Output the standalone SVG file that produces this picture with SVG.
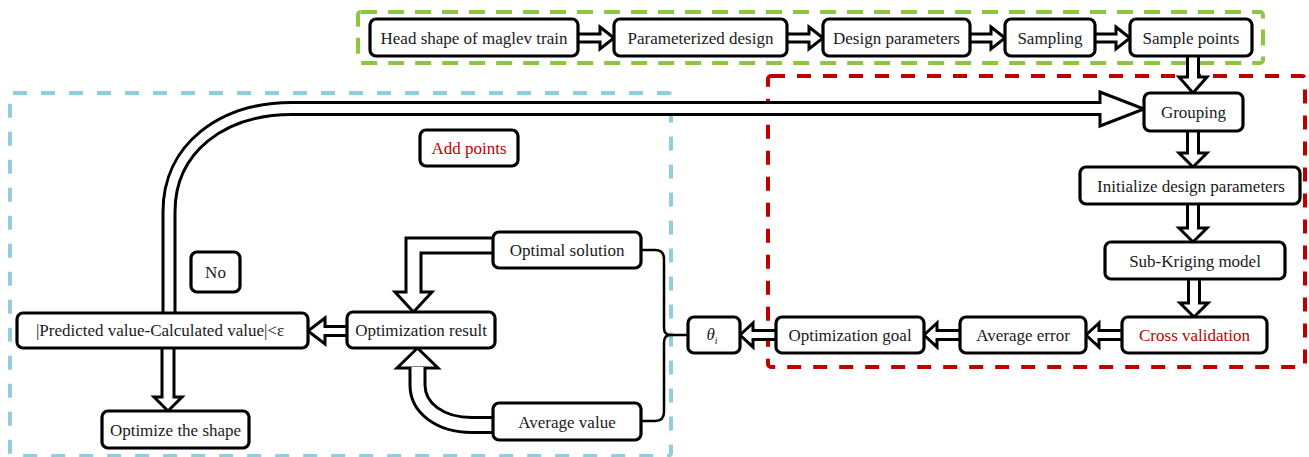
<svg xmlns="http://www.w3.org/2000/svg" width="1309" height="457" viewBox="0 0 1309 457">
<style>
.bg{fill:#fff}
.frame{fill:none;stroke-width:4}
.g{stroke:#8dc63f;stroke-dasharray:16 11}
.r{stroke:#c00000;stroke-dasharray:14 12}
.b{stroke:#92cddc;stroke-dasharray:14 14}
.box{fill:#fff;stroke:#000;stroke-width:3.2}
.t{font-family:"Liberation Serif","Times New Roman",serif;font-size:17px;fill:#1a1a1a;text-anchor:middle}
.red{fill:#c00000}
.k{fill:none;stroke:#000;stroke-linejoin:miter}
.w{fill:none;stroke:#fff;stroke-linejoin:miter}
.hd{fill:#fff;stroke:#000;stroke-width:3;stroke-linejoin:miter}
.thin{fill:none;stroke:#000;stroke-width:2.5}
</style>
<rect class="bg" x="0" y="0" width="1309" height="457"/>
<g id="frames">
<rect class="frame b" x="10" y="93" width="661" height="363" rx="3"/>
<rect class="frame r" x="768" y="76" width="537" height="291" rx="3"/>
<rect class="frame g" x="358" y="12" width="905" height="51" rx="3"/>
</g>
<g id="connectors">
<path class="k" stroke-width="11" d="M570,38 H601"/><polygon class="hd" points="600,27 614,38 600,49"/><path class="w" stroke-width="5" d="M570,38 H602"/>
<path class="k" stroke-width="11" d="M780,38 H810"/><polygon class="hd" points="809,27 823,38 809,49"/><path class="w" stroke-width="5" d="M780,38 H811"/>
<path class="k" stroke-width="11" d="M962,38 H992"/><polygon class="hd" points="991,27 1005,38 991,49"/><path class="w" stroke-width="5" d="M962,38 H993"/>
<path class="k" stroke-width="11" d="M1088,38 H1117"/><polygon class="hd" points="1116,27 1130,38 1116,49"/><path class="w" stroke-width="5" d="M1088,38 H1118"/>
<path class="k" stroke-width="14" d="M1193,50 V78"/><polygon class="hd" points="1179,77 1193,93 1207,77"/><path class="w" stroke-width="8" d="M1193,50 V79"/>
<path class="k" stroke-width="14" d="M1193,125 V154"/><polygon class="hd" points="1179,153 1193,167 1207,153"/><path class="w" stroke-width="8" d="M1193,125 V155"/>
<path class="k" stroke-width="14" d="M1193,198 V229"/><polygon class="hd" points="1179,228 1193,242 1207,228"/><path class="w" stroke-width="8" d="M1193,198 V230"/>
<path class="k" stroke-width="14" d="M1194,273 V304"/><polygon class="hd" points="1180,303 1194,317 1208,303"/><path class="w" stroke-width="8" d="M1194,273 V305"/>
<path class="k" stroke-width="12" d="M1130,335 H1098"/><polygon class="hd" points="1099,323 1086,335 1099,347"/><path class="w" stroke-width="6" d="M1130,335 H1097"/>
<path class="k" stroke-width="12" d="M968,335 H936"/><polygon class="hd" points="937,323 924,335 937,347"/><path class="w" stroke-width="6" d="M968,335 H935"/>
<path class="k" stroke-width="12" d="M784,335 H752"/><polygon class="hd" points="753,323 740,335 753,347"/><path class="w" stroke-width="6" d="M784,335 H751"/>
<path class="k" stroke-width="12" d="M355,331 H324"/><polygon class="hd" points="325,318 308,331 325,344"/><path class="w" stroke-width="6" d="M355,331 H323"/>
<path class="k" stroke-width="15" d="M168,340 V398"/><polygon class="hd" points="154,397 168,411 182,397"/><path class="w" stroke-width="9" d="M168,340 V399"/>
<path class="k" stroke-width="18" d="M500,245.5 H413.5 V293"/><polygon class="hd" points="395,292 413.5,312 432,292"/><path class="w" stroke-width="12" d="M500,245.5 H413.5 V294"/>
<path class="k" stroke-width="18" d="M500,425 H472 C440,425 417.5,408 417.5,385 V369"/><polygon class="hd" points="397,368 417.5,348 438,368"/><path class="w" stroke-width="12" d="M500,425 H472 C440,425 417.5,408 417.5,385 V367"/>
<path class="k" stroke-width="15" d="M169,320 V212 C169,148 222,108.5 292,108.5 H1101"/><polygon class="hd" points="1100,92 1144,109 1100,126"/><path class="w" stroke-width="9" d="M169,320 V212 C169,148 222,108.5 292,108.5 H1102.5"/>
<path class="thin" d="M641,250 H655 Q664,250 664,259 V328 Q664,335 671,335 H690"/>
<path class="thin" d="M641,421 H655 Q664,421 664,412 V342 Q664,335 671,335"/>
</g>
<g id="n-head"><rect class="box" x="370" y="19" width="208" height="37" rx="6"/><text class="t" x="474" y="43.5">Head shape of maglev train</text></g>
<g id="n-param"><rect class="box" x="614" y="19" width="173" height="37" rx="6"/><text class="t" x="700.5" y="43.5">Parameterized design</text></g>
<g id="n-designp"><rect class="box" x="823" y="19" width="147" height="37" rx="6"/><text class="t" x="896.5" y="43.5">Design parameters</text></g>
<g id="n-sampling"><rect class="box" x="1005" y="19" width="90" height="37" rx="6"/><text class="t" x="1050" y="43.5">Sampling</text></g>
<g id="n-samplepts"><rect class="box" x="1130" y="19" width="122" height="37" rx="6"/><text class="t" x="1191" y="43.5">Sample points</text></g>
<g id="n-grouping"><rect class="box" x="1144" y="93" width="99" height="38" rx="6"/><text class="t" x="1193.5" y="118">Grouping</text></g>
<g id="n-init"><rect class="box" x="1080" y="167" width="220" height="37" rx="6"/><text class="t" x="1191" y="191.5">Initialize design parameters</text></g>
<g id="n-subk"><rect class="box" x="1105" y="242" width="180" height="37" rx="6"/><text class="t" x="1195" y="266.5">Sub-Kriging model</text></g>
<g id="n-crossval"><rect class="box" x="1122" y="317" width="145" height="36" rx="6"/><text class="t red" x="1194.5" y="341">Cross validation</text></g>
<g id="n-avgerr"><rect class="box" x="960" y="317" width="126" height="36" rx="6"/><text class="t" x="1023" y="341">Average error</text></g>
<g id="n-optgoal"><rect class="box" x="776" y="317" width="148" height="36" rx="6"/><text class="t" x="850" y="341">Optimization goal</text></g>
<g id="n-theta"><rect class="box" x="688" y="317" width="52" height="36" rx="6"/><text class="t" x="712" y="340" font-style="italic">θ<tspan font-size="10" dy="4">i</tspan></text></g>
<g id="n-optsol"><rect class="box" x="493" y="232" width="148" height="36" rx="6"/><text class="t" x="567" y="256">Optimal solution</text></g>
<g id="n-avgval"><rect class="box" x="493" y="403" width="148" height="37" rx="6"/><text class="t" x="567" y="427.5">Average value</text></g>
<g id="n-optres"><rect class="box" x="347" y="312" width="148" height="36" rx="6"/><text class="t" x="421" y="336">Optimization result</text></g>
<g id="n-predicted"><rect class="box" x="17" y="313" width="291" height="35" rx="6"/><text class="t" x="160" y="336">|Predicted value-Calculated value|&lt;ε</text></g>
<g id="n-no"><rect class="box" x="191" y="252" width="49" height="40" rx="6"/><text class="t" x="215.5" y="277.5">No</text></g>
<g id="n-optshape"><rect class="box" x="102" y="411" width="147" height="37" rx="6"/><text class="t" x="175.5" y="435.5">Optimize the shape</text></g>
<g id="n-addpoints"><rect class="box" x="420" y="130" width="98" height="36" rx="6"/><text class="t red" x="469" y="154">Add points</text></g>
</svg>
